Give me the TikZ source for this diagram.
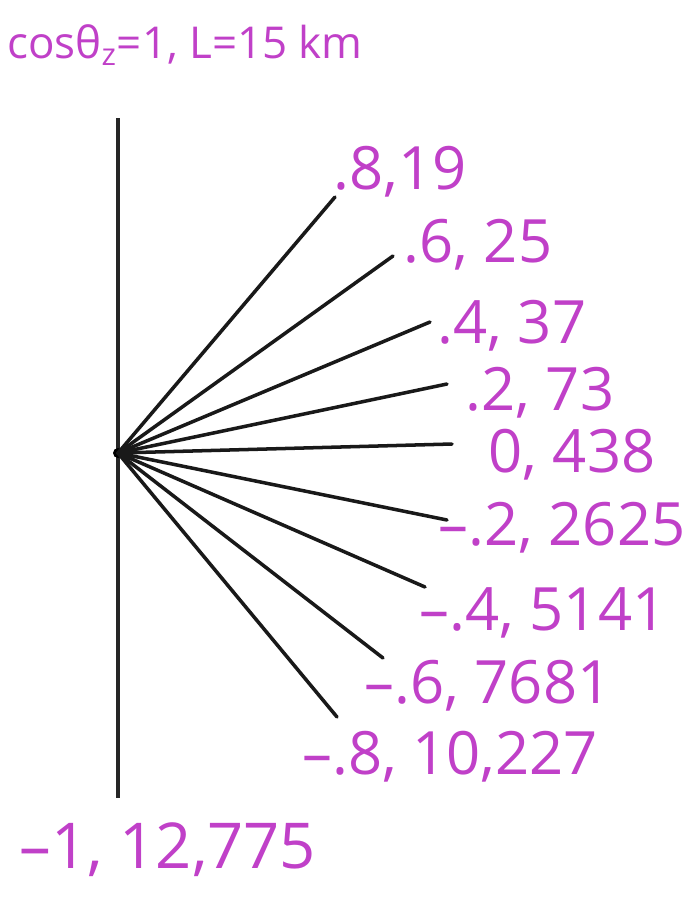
\documentclass[tikz,border=0pt]{standalone}
\usepackage{fontspec}
\setmainfont{Open Sans}
\definecolor{marker}{RGB}{192,64,200}

\begin{document}
\begin{tikzpicture}[
x=0.02cm,
y=-0.02cm,
font=\small,
stroke/.style={
line width=2pt,
draw=black!90,
line cap=round
},
axis/.style={
line width=2pt,
draw=black!85
},
tag/.style={
text=marker,
inner sep=0pt,
font=\fontsize{34}{38}\selectfont
},
bigtag/.style={
text=marker,
inner sep=0pt,
font=\fontsize{36}{40}\selectfont
},
headtag/.style={
text=marker,
inner sep=0pt,
font=\fontsize{25}{30}\selectfont
}
]

\useasboundingbox (0,0) rectangle (693,904);

\coordinate (top) at (118,118);
\coordinate (bottom) at (118,798);
\coordinate (hub) at (118,453);

\coordinate (p8) at (335,197);
\coordinate (p6) at (393,256);
\coordinate (p4) at (430,322);
\coordinate (p2) at (447,384);
\coordinate (zero) at (452,444);
\coordinate (m2) at (447,520);
\coordinate (m4) at (425,587);
\coordinate (m6) at (383,658);
\coordinate (m8) at (337,717);

\node[headtag] (title) at (185,45) {cosθ\textsubscript{z}=1, L=15 km};

\node[tag] (lp8) at (400,172) {.8,19};
\node[tag] (lp6) at (478,245) {.6, 25};
\node[tag] (lp4) at (512,326) {.4, 37};
\node[tag] (lp2) at (540,393) {.2, 73};
\node[tag] (lzero) at (572,455) {0, 438};
\node[tag] (lm2) at (562,528) {–.2, 2625};
\node[tag] (lm4) at (543,613) {–.4, 5141};
\node[tag] (lm6) at (488,686) {–.6, 7681};
\node[tag] (lm8) at (450,757) {–.8, 10,227};
\node[bigtag] (lm10) at (168,850) {–1, 12,775};

\draw[axis] (top) -- (bottom);
\fill (hub) circle (5);

\draw[stroke] (hub) -- (p8);
\draw[stroke] (hub) -- (p6);
\draw[stroke] (hub) -- (p4);
\draw[stroke] (hub) -- (p2);
\draw[stroke] (hub) -- (zero);
\draw[stroke] (hub) -- (m2);
\draw[stroke] (hub) -- (m4);
\draw[stroke] (hub) -- (m6);
\draw[stroke] (hub) -- (m8);

\end{tikzpicture}
\end{document}
